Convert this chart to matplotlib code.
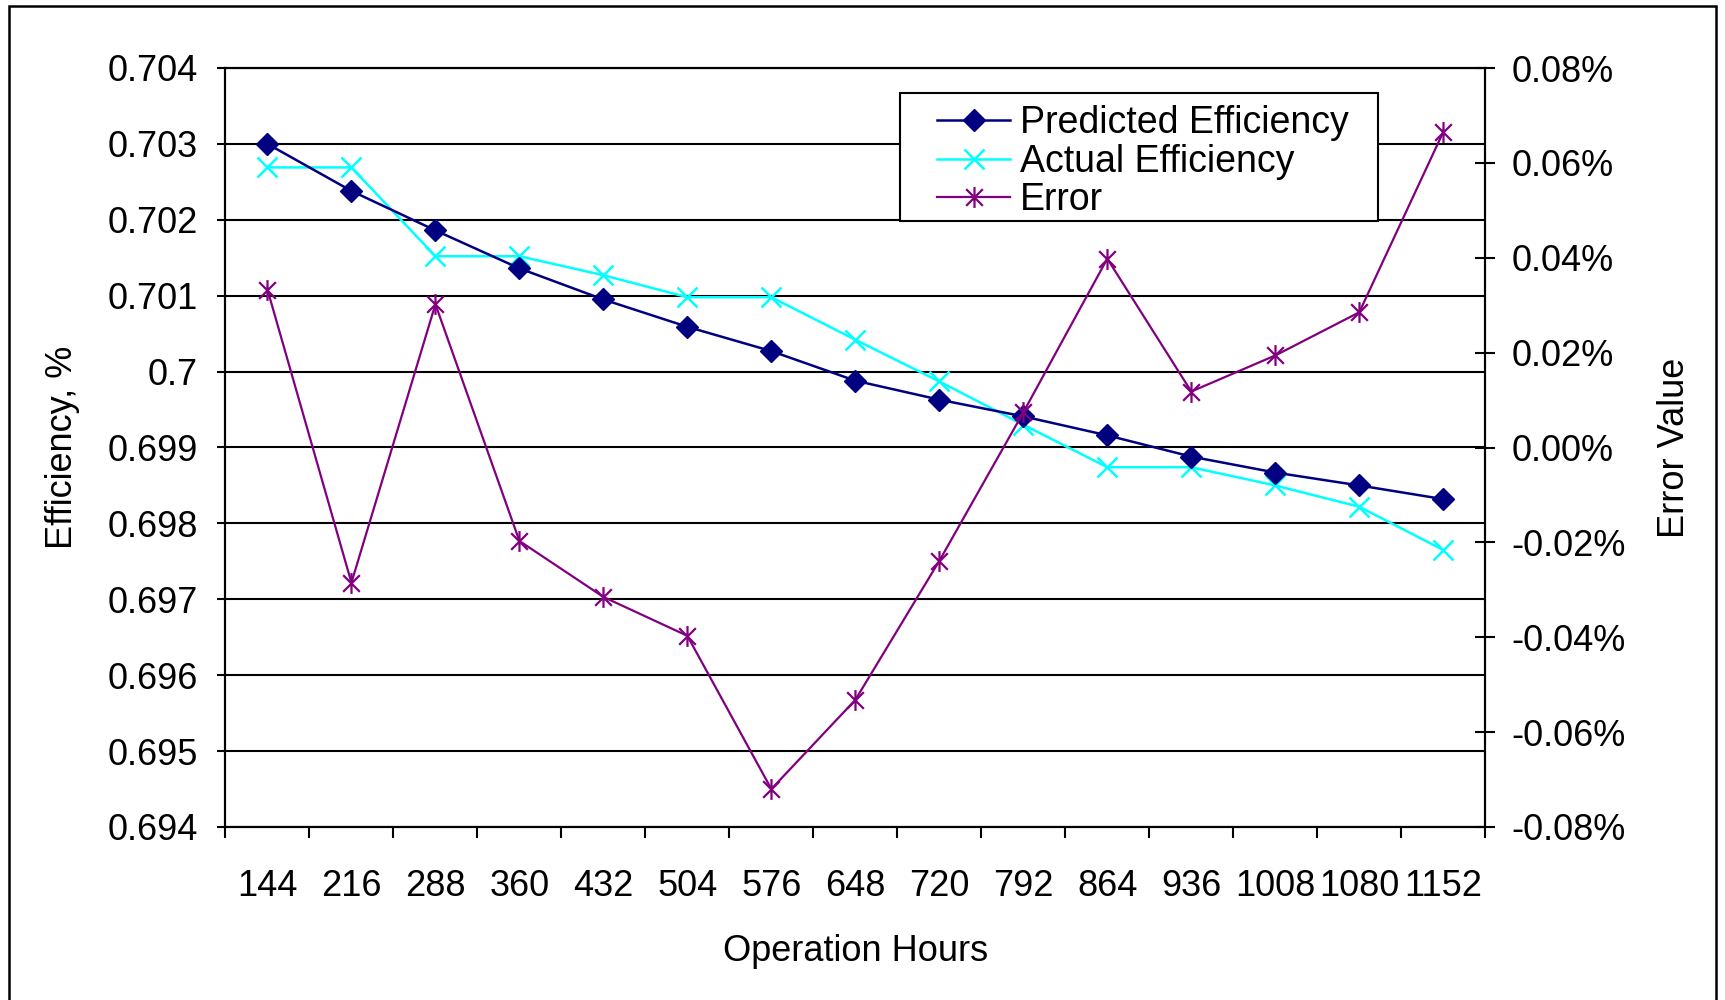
import matplotlib
matplotlib.use("Agg")
import matplotlib.pyplot as plt
from matplotlib.path import Path
from matplotlib.patches import Rectangle
from matplotlib.ticker import FuncFormatter

# ---- data ----
hours = ["144", "216", "288", "360", "432", "504", "576", "648", "720",
         "792", "864", "936", "1008", "1080", "1152"]
predicted = [0.70300, 0.70238, 0.70186, 0.70136, 0.70095, 0.70059, 0.70027,
             0.69988, 0.69963, 0.69941, 0.69916, 0.69888, 0.69867, 0.69850,
             0.69832]
actual = [0.70269, 0.70269, 0.70152, 0.70152, 0.70127, 0.70098, 0.70098,
          0.70042, 0.69987, 0.69930, 0.69874, 0.69874, 0.69850, 0.69822,
          0.69765]
error_pct = [0.0333, -0.0285, 0.0302, -0.0197, -0.0315, -0.0397, -0.0720,
             -0.0532, -0.0239, 0.0074, 0.0398, 0.0118, 0.0194, 0.0285, 0.0665]

eff_ticks = [0.694, 0.695, 0.696, 0.697, 0.698, 0.699, 0.700, 0.701, 0.702,
             0.703, 0.704]
eff_tick_labels = ["0.694", "0.695", "0.696", "0.697", "0.698", "0.699",
                   "0.7", "0.701", "0.702", "0.703", "0.704"]
err_ticks = [-0.08, -0.06, -0.04, -0.02, 0.0, 0.02, 0.04, 0.06, 0.08]

plt.rcParams["font.family"] = ["Liberation Sans", "DejaVu Sans"]
FS = 26
LEG_FS = 27

fig = plt.figure(figsize=(17.25, 10), dpi=100)
ax = fig.add_axes([0.1307, 0.173, 0.7303, 0.759])
ax2 = ax.twinx()

x = list(range(len(hours)))

# asterisk marker: an x crossed by a vertical bar
star = Path([(-1, -1), (1, 1), (-1, 1), (1, -1), (0, -1.25), (0, 1.25)],
            [Path.MOVETO, Path.LINETO, Path.MOVETO, Path.LINETO,
             Path.MOVETO, Path.LINETO])

l1, = ax.plot(x, predicted, color="#000080", lw=1.8, marker="D", ms=11,
              mfc="#000080", mec="#000080", label="Predicted Efficiency",
              zorder=4)
l2, = ax.plot(x, actual, color="#00FFFF", lw=1.8, marker="x", ms=15,
              mew=1.8, label="Actual Efficiency", zorder=3)
l3, = ax2.plot(x, error_pct, color="#800080", lw=1.6, marker=star, ms=15,
               mfc="none", mec="#800080", mew=1.6, label="Error", zorder=3)

# primary axis
ax.set_xlim(-0.5, len(hours) - 0.5)
ax.set_ylim(0.694, 0.704)
ax.set_yticks(eff_ticks)
ax.set_yticklabels(eff_tick_labels)
ax.yaxis.grid(True, color="black", lw=1.5)
ax.set_axisbelow(True)
ax.tick_params(axis="y", direction="out", length=6, width=1.5, pad=14,
               labelsize=FS)

ax.set_xticks(x)
ax.set_xticklabels(hours)
ax.set_xticks([i - 0.5 for i in range(len(hours) + 1)], minor=True)
ax.tick_params(axis="x", which="major", length=0, pad=30, labelsize=FS)
ax.tick_params(axis="x", which="minor", direction="out", length=8, width=1.5)

for s in ax.spines.values():
    s.set_linewidth(1.5)
    s.set_color("black")

ax.set_xlabel("Operation Hours", fontsize=FS, labelpad=22)
ax.set_ylabel("Efficiency, %", fontsize=FS, labelpad=20)

# secondary axis
ax2.set_ylim(-0.08, 0.08)
ax2.set_yticks(err_ticks)
ax2.yaxis.set_major_formatter(FuncFormatter(lambda v, p: f"{v:.2f}%"))
ax2.tick_params(axis="y", direction="inout", length=14, width=1.5, pad=12,
                labelsize=FS)
for s in ax2.spines.values():
    s.set_linewidth(1.5)
    s.set_color("black")
ax2.set_ylabel("Error Value", fontsize=FS, labelpad=22)

# legend box drawn separately so its padding can differ per side
box = Rectangle((900 / 1725, 1 - 221 / 1000), 478 / 1725, 127.5 / 1000,
                transform=fig.transFigure, facecolor="white",
                edgecolor="black", lw=1.5, zorder=9)
ax2.add_artist(box)
box.set_clip_on(False)

leg = ax2.legend(handles=[l1, l2, l3], loc="upper left",
                 bbox_to_anchor=(937 / 1725, 0.895),
                 bbox_transform=fig.transFigure, fontsize=LEG_FS,
                 frameon=False, borderaxespad=0, borderpad=0,
                 handlelength=1.95, handletextpad=0.27, labelspacing=0.07)
leg.set_zorder(10)

# outer chart border
fig.patches.append(Rectangle((0.0055, -0.02), 0.989, 1.014,
                             transform=fig.transFigure, fill=False,
                             ec="black", lw=1.8))

fig.savefig("out.png", dpi=100)
